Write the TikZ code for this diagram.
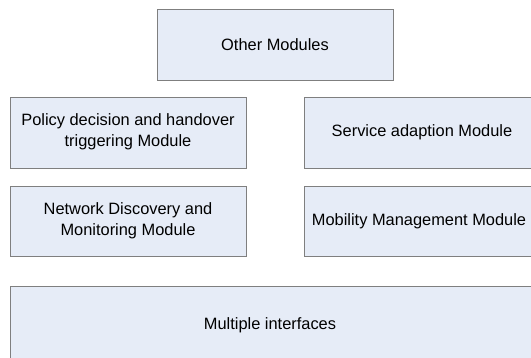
\documentclass[tikz,border=0pt]{standalone}
\usepackage{fontspec}
\setmainfont{Liberation Sans}
\definecolor{boxfill}{HTML}{E6ECF7}
\definecolor{boxline}{HTML}{7F7F7F}
\tikzset{
  modbox/.style={draw=boxline, fill=boxfill, line width=0.9pt},
  modtext/.style={font=\fontsize{16.4}{21.5}\selectfont, text=black, align=center, inner sep=0pt}
}
\begin{document}
\begin{tikzpicture}[x=1pt,y=-1pt]
\useasboundingbox (0,0) rectangle (531,358);
\begin{scope}
\clip (0,0) rectangle (531,358);
\draw[modbox] (157,9) rectangle (393,80);
\node[modtext] (other) at (275,44.5) {Other Modules};
\draw[modbox] (10,97) rectangle (246,168);
\node[modtext] (policy) at (128,132) {Policy decision and handover\\triggering Module};
\draw[modbox] (304,97) rectangle (545,168);
\node[modtext] (service) at (422,132.5) {Service adaption Module};
\draw[modbox] (10,186) rectangle (246,256);
\node[modtext] (network) at (128,221) {Network Discovery and\\Monitoring Module};
\draw[modbox] (304,186) rectangle (545,256);
\node[modtext] (mobility) at (419,221) {Mobility Management Module};
\draw[modbox] (10,286) rectangle (545,370);
\node[modtext] (multi) at (270,325) {Multiple interfaces};
\end{scope}
\end{tikzpicture}
\end{document}
